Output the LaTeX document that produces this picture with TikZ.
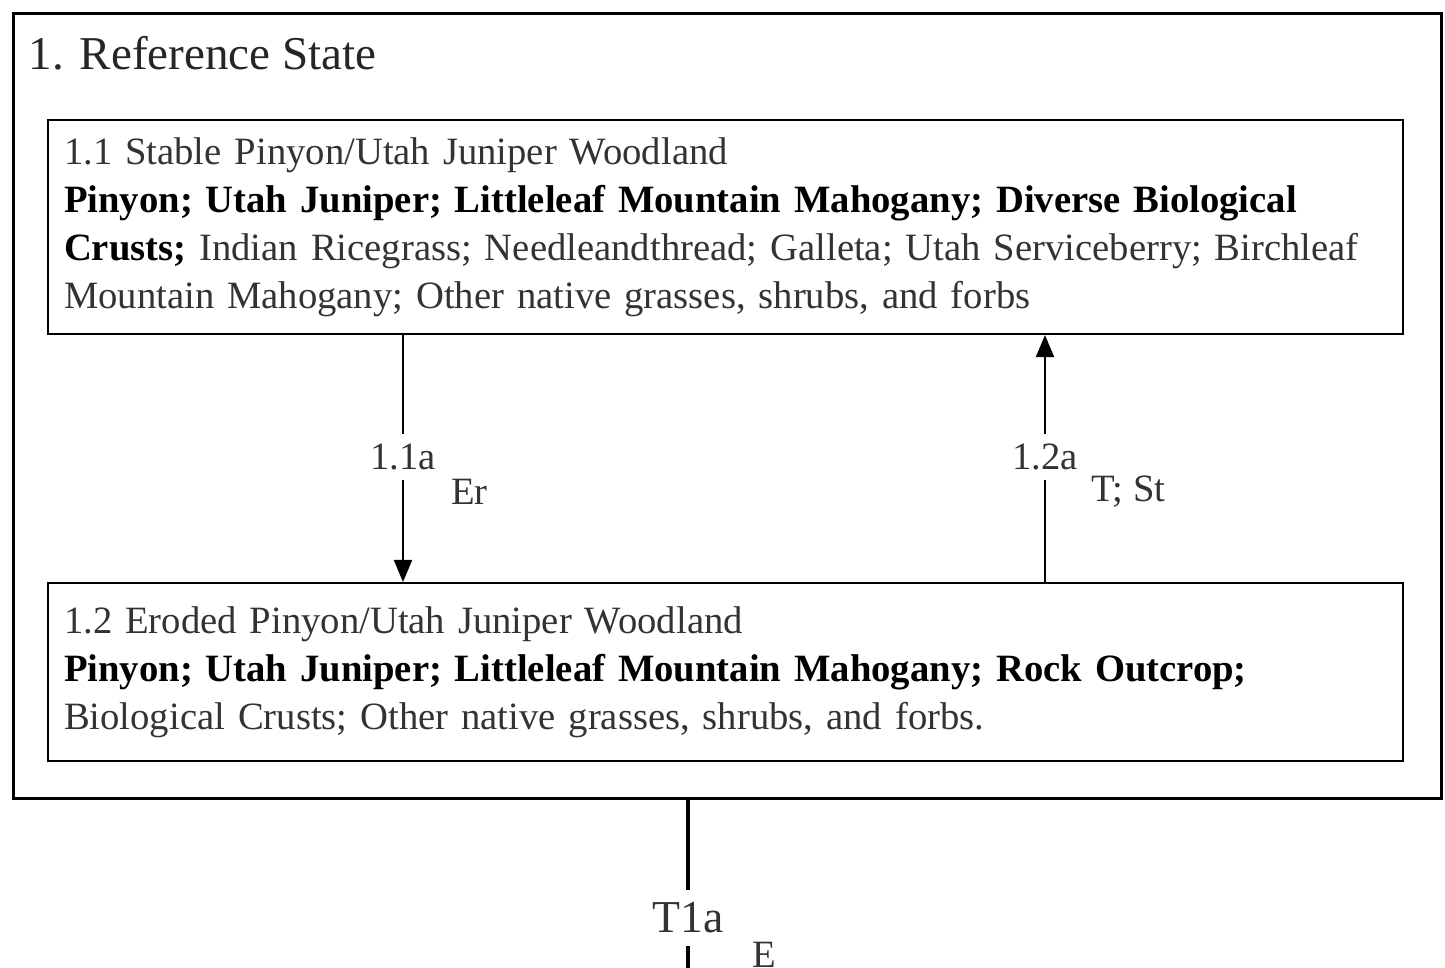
\documentclass[tikz,border=0pt]{standalone}
\usepackage{fontspec}
\setmainfont{Liberation Serif}
\usetikzlibrary{arrows.meta,positioning}

\begin{document}
\begin{tikzpicture}[
  phase/.style={draw, line width=0.6pt, anchor=north west, minimum width=13.55cm,
    text width=13.23cm, inner xsep=0.16cm, align=left,
    font=\fontsize{11}{13.66}\selectfont, text=black!80},
  lbl/.style={fill=white, inner xsep=1pt, inner ysep=2.5pt,
    font=\fontsize{11}{13}\selectfont, text=black!80},
  cause/.style={inner sep=1pt, font=\fontsize{11}{13}\selectfont, text=black!80},
  trans/.style={line width=0.6pt, -{Triangle[length=0.22cm,width=0.18cm]}}
]
\useasboundingbox (0,0) rectangle (14.45,-9.68);
\clip (0,0) rectangle (14.45,-9.68);

% reference state
\node [draw, line width=0.9pt, anchor=north west, minimum width=14.28cm, minimum height=7.85cm] (ref) at (0.12,-0.12) {};
\node [anchor=base west, inner sep=0, font=\fontsize{13.4}{16}\selectfont, text=black!85] (reftitle) at (0.28,-0.70) {1. Reference State};

% community phases
\node [phase, minimum height=2.14cm] (b11) at (0.47,-1.19) {1.1 Stable Pinyon/Utah Juniper Woodland\\
  \textcolor{black}{\textbf{Pinyon; Utah Juniper; Littleleaf Mountain Mahogany; Diverse Biological}}\\
  \textcolor{black}{\textbf{Crusts;}} Indian Ricegrass; Needleandthread; Galleta; Utah Serviceberry; Birchleaf\\
  Mountain Mahogany; Other native grasses, shrubs, and forbs};
\node [phase, minimum height=1.78cm] (b12) at (0.47,-5.82) {1.2 Eroded Pinyon/Utah Juniper Woodland\\
  \textcolor{black}{\textbf{Pinyon; Utah Juniper; Littleleaf Mountain Mahogany; Rock Outcrop;}}\\
  Biological Crusts; Other native grasses, shrubs, and forbs.};

% pathways
\node [lbl] (t11a) at (4.03,-4.57) {1.1a};
\draw [line width=0.6pt] (b11.south -| t11a) -- (t11a);
\draw [trans] (t11a) -- (b12.north -| t11a);
\node [cause, anchor=west] (er) at (4.47,-4.92) {Er};

\node [lbl] (t12a) at (10.45,-4.57) {1.2a};
\draw [line width=0.6pt] (b12.north -| t12a) -- (t12a);
\draw [trans] (t12a) -- (b11.south -| t12a);
\node [cause, anchor=west] (tst) at (10.87,-4.92) {T; St};

% transition
\node [lbl, inner ysep=3.5pt, font=\fontsize{13}{15}\selectfont] (t1a) at (6.88,-9.18) {T1a};
\coordinate (t1end) at (6.88,-10.3);
\draw [line width=0.9pt] (ref.south -| t1a) -- (t1a);
\draw [line width=0.9pt] (t1a) -- (t1end);
\node [cause, anchor=west] (e) at (7.48,-9.55) {E};
\end{tikzpicture}
\end{document}
